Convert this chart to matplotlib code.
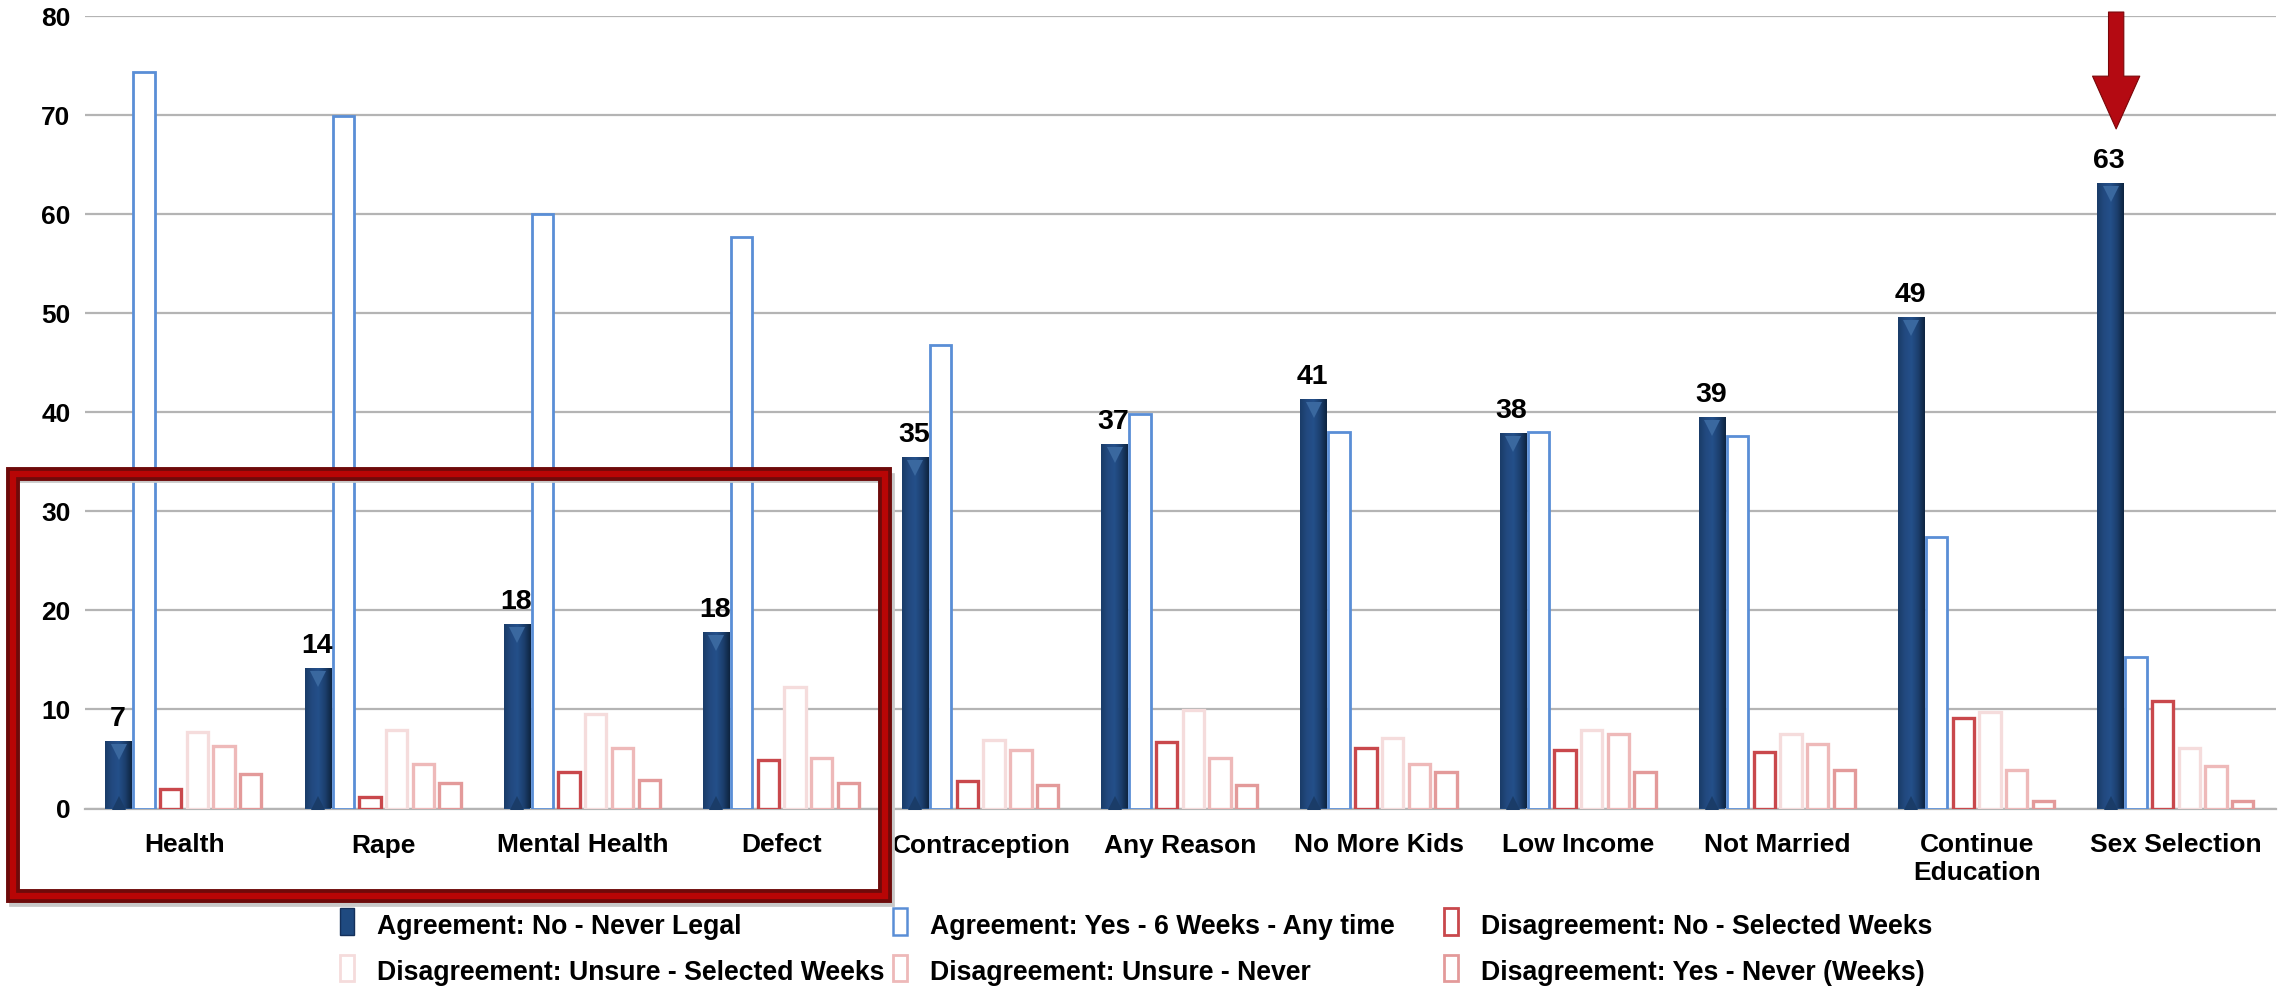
import numpy as np
import matplotlib
matplotlib.use('Agg')
import matplotlib.pyplot as plt
from matplotlib.colors import LinearSegmentedColormap
from matplotlib.legend_handler import HandlerBase
from matplotlib.patches import Rectangle

categories = ['Health', 'Rape', 'Mental Health', 'Defect', 'Contraception', 'Any Reason',
              'No More Kids', 'Low Income', 'Not Married', 'Continue\nEducation', 'Sex Selection']

never_legal = [6.8, 14.2, 18.6, 17.8, 35.5, 36.8, 41.3, 37.9, 39.5, 49.6, 63.1]
yes_any_time = [74.3, 69.9, 60.0, 57.7, 46.8, 39.8, 38.0, 38.0, 37.6, 27.4, 15.3]
no_selected = [2.0, 1.2, 3.7, 4.9, 2.8, 6.7, 6.1, 5.9, 5.7, 9.1, 10.9]
unsure_selected = [7.7, 7.9, 9.5, 12.3, 6.9, 9.9, 7.1, 7.9, 7.5, 9.7, 6.1]
unsure_never = [6.3, 4.5, 6.1, 5.1, 5.9, 5.1, 4.5, 7.5, 6.5, 3.9, 4.3]
yes_never = [3.5, 2.6, 2.9, 2.6, 2.4, 2.4, 3.7, 3.7, 3.9, 0.8, 0.8]

point_labels = ['7', '14', '18', '18', '35', '37', '41', '38', '39', '49', '63']

series_names = ['Agreement: No - Never Legal', 'Agreement: Yes - 6 Weeks - Any time',
                'Disagreement: No - Selected Weeks', 'Disagreement: Unsure - Selected Weeks',
                'Disagreement: Unsure - Never', 'Disagreement: Yes - Never (Weeks)']

plt.rcParams['font.family'] = ['Liberation Sans', 'DejaVu Sans']
plt.rcParams['font.weight'] = 'bold'

W, H = 2284, 986
fig = plt.figure(figsize=(W / 100, H / 100), dpi=100, facecolor='white')
ax = fig.add_axes([84.5 / W, (H - 808.5) / H, 2191 / W, 792.5 / H])

x = np.arange(len(categories))
step = 0.134
bar_cmap = LinearSegmentedColormap.from_list('navy', ['#1a3c68', '#22497f', '#24508a', '#1c3f6e', '#0e2440'])

# dark bars with a gradient clipped to the bar
dark = ax.bar(x - 2.45 * step, never_legal, step * 1.0, color='#1f4a80', zorder=3)
grad = np.linspace(0, 1, 64).reshape(1, -1)
for b in dark:
    im = ax.imshow(grad, cmap=bar_cmap, aspect='auto', zorder=3.1,
                   extent=(b.get_x(), b.get_x() + b.get_width(), 0, b.get_height()))
    im.set_clip_path(b)
ax.plot(x - 2.45 * step, np.array(never_legal) - 1.1, ls='none', marker='v', ms=11, mew=0,
        color='#3a689f', zorder=3.2)
ax.plot(x - 2.45 * step, [0.6] * len(x), ls='none', marker='^', ms=10, mew=0,
        color='#1a3c68', zorder=3.2)

outlined = [(yes_any_time, '#5a8ed6', 2.0), (no_selected, '#c9484c', 2.4),
            (unsure_selected, '#f5dcdc', 2.4), (unsure_never, '#eeb9b9', 2.4),
            (yes_never, '#e39a9a', 2.4)]
for i, (vals, col, lw) in enumerate(outlined):
    ax.bar(x + (i - 1.5) * step, vals, step * 0.8, facecolor='white', edgecolor=col,
           linewidth=lw, zorder=3)

for xi, v, s in zip(x, never_legal, point_labels):
    ax.text(xi - 2.5 * step, v + 0.9, s, ha='center', va='bottom', fontsize=20.5, zorder=5)

ax.set_xlim(-0.5, len(categories) - 0.5)
ax.set_ylim(0, 80)
ax.set_yticks(range(0, 81, 10))
ax.set_xticks(x)
ax.set_xticklabels(categories, fontsize=19, linespacing=1.2)
ax.tick_params(axis='y', length=0, pad=10, labelsize=19)
ax.tick_params(axis='x', length=0, pad=18)
ax.grid(axis='y', color='#b4b4b4', lw=1.6, zorder=0)
ax.set_axisbelow(True)
for s in ['top', 'left', 'right']:
    ax.spines[s].set_visible(False)
ax.spines['bottom'].set_color('#b4b4b4')
ax.spines['bottom'].set_linewidth(1.6)
ax.spines['bottom'].set_zorder(1)


# red highlight box, pixel placed
def box(x0, y0, x1, y1, **kw):
    fig.add_artist(Rectangle((x0 / W, 1 - y1 / H), (x1 - x0) / W, (y1 - y0) / H,
                             transform=fig.transFigure, fill=False, **kw))


box(14, 478, 890, 902, edgecolor='#c8c8c8', lw=7, zorder=9)
box(13, 474, 885, 896, edgecolor='#6e0a0a', lw=10, zorder=10)
box(13, 474, 885, 896, edgecolor='#b80505', lw=4.5, zorder=11)

# arrow above the last group
ax.annotate('', xy=(10 - 0.30, 68.6), xytext=(10 - 0.30, 80.4), annotation_clip=False, zorder=6,
            arrowprops=dict(arrowstyle='simple,head_length=1.9,head_width=1.7,tail_width=0.55',
                            mutation_scale=20, facecolor='#b40a12', edgecolor='#7a0508', lw=0.8,
                            shrinkA=0, shrinkB=0))


class SwatchHandler(HandlerBase):
    def __init__(self, face, edge, lw):
        super().__init__()
        self.face, self.edge, self.lw = face, edge, lw

    def create_artists(self, legend, orig, xd, yd, width, height, fontsize, trans):
        r = Rectangle((width * 0.2, -1), width * 0.5, height + 2, facecolor=self.face,
                      edgecolor=self.edge, lw=self.lw, transform=trans)
        return [r]


styles = [('#1f4a80', '#14305a', 1.0), ('white', '#5a8ed6', 1.8), ('white', '#c9484c', 2.0),
          ('white', '#f5dcdc', 2.0), ('white', '#eeb9b9', 2.0), ('white', '#e39a9a', 2.0)]
handles = [Rectangle((0, 0), 1, 1, label=n) for n in series_names]
hmap = {h: SwatchHandler(*s) for h, s in zip(handles, styles)}

# one legend per column, the gaps between columns differ
col_left = [335, 888, 1439]
for c in range(3):
    idx = [c, c + 3]
    fig.legend([handles[i] for i in idx], [series_names[i] for i in idx], handler_map=hmap,
               loc='upper left', bbox_to_anchor=(col_left[c] / W, 1 - 912.5 / H), frameon=False,
               fontsize=19.2, handlelength=1.0, handleheight=1.0, handletextpad=0.57,
               labelspacing=0.72, borderpad=0, borderaxespad=0)

fig.savefig('out.png', dpi=100, facecolor='white')
